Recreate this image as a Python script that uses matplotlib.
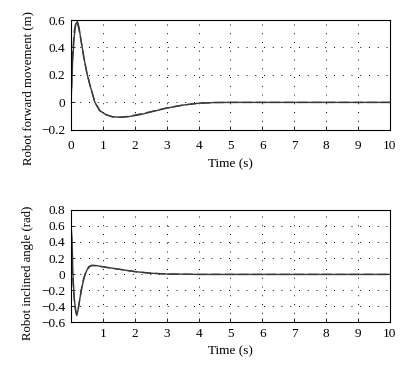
import matplotlib
matplotlib.use("Agg")
import matplotlib.pyplot as plt

plt.rcParams['font.family'] = 'serif'
plt.rcParams['font.serif'] = ['Liberation Serif', 'DejaVu Serif']

# Top: robot forward movement (m)
t_fwd_solid = [0, 0.02, 0.05, 0.1, 0.15, 0.2, 0.25, 0.3, 0.4, 0.5, 0.6, 0.75, 0.9, 1.1, 1.3,
               1.54, 1.8, 2.16, 2.5, 3.0, 3.5, 4.0, 4.5, 5.0, 10.0]
fwd_solid = [0, 0.12, 0.3, 0.48, 0.57, 0.59, 0.55, 0.47, 0.33, 0.21, 0.12, 0.0, -0.06, -0.09, -0.105,
             -0.108, -0.104, -0.09, -0.07, -0.042, -0.02, -0.006, -0.001, 0.0, 0.0]
t_fwd_dash = [0, 0.02, 0.05, 0.1, 0.15, 0.18, 0.22, 0.3, 0.4, 0.5, 0.6, 0.75, 0.9, 1.1, 1.3,
              1.54, 1.8, 2.16, 2.5, 3.0, 3.5, 4.0, 4.5, 5.0, 10.0]
fwd_dash = [0, 0.15, 0.35, 0.52, 0.58, 0.59, 0.56, 0.47, 0.33, 0.21, 0.12, 0.0, -0.06, -0.09, -0.105,
            -0.108, -0.102, -0.085, -0.068, -0.04, -0.02, -0.006, -0.001, 0.0, 0.0]

# Bottom: robot inclined angle (rad)
t_ang_solid = [0, 0.03, 0.06, 0.1, 0.14, 0.18, 0.22, 0.28, 0.35, 0.44, 0.55, 0.65, 0.8, 1.0,
               1.5, 2.0, 2.5, 3.0, 4.0, 10.0]
ang_solid = [0.6, 0.45, 0.0, -0.3, -0.45, -0.52, -0.45, -0.3, -0.15, 0.0, 0.09, 0.11, 0.105, 0.09,
             0.06, 0.03, 0.01, 0.0, -0.005, -0.005]
t_ang_dash = [0, 0.03, 0.08, 0.12, 0.17, 0.22, 0.28, 0.34, 0.4, 0.5, 0.6, 0.7, 0.8, 1.0,
              1.5, 2.0, 2.5, 3.0, 4.0, 10.0]
ang_dash = [0.3, 0.1, -0.2, -0.4, -0.5, -0.45, -0.3, -0.15, -0.05, 0.05, 0.1, 0.105, 0.103, 0.09,
            0.06, 0.03, 0.01, 0.0, -0.005, -0.005]

fig = plt.figure(figsize=(4.13, 3.71), dpi=100)
ax1 = fig.add_axes([0.172, 0.650, 0.772, 0.296])
ax2 = fig.add_axes([0.172, 0.132, 0.772, 0.302])

lc = '#3a3a3a'
fs = 9.5
for ax in (ax1, ax2):
    ax.set_xlim(0, 10)
    ax.set_xticks(range(0, 11))
    ax.grid(True, color='black', linestyle=(0, (1, 8)), linewidth=0.7)
    ax.tick_params(direction='in', length=3, width=0.6, labelsize=fs)
    ax.tick_params(axis='y', pad=4)
    for s in ax.spines.values():
        s.set_linewidth(0.8)

ax1.tick_params(axis='x', pad=7)
ax2.tick_params(axis='x', pad=4)
ax1.set_xlabel('Time (s)', fontsize=fs, labelpad=5)
ax2.set_xlabel('Time (s)', fontsize=fs, labelpad=4)

ax1.plot(t_fwd_solid, fwd_solid, color=lc, lw=1.0)
ax1.plot(t_fwd_dash, fwd_dash, color=lc, lw=1.0, ls=(0, (7, 3)))
ax1.set_ylim(-0.2, 0.6)
ax1.set_yticks([-0.2, 0, 0.2, 0.4, 0.6])
ax1.set_yticklabels(['\u22120.2', '0', '0.2', '0.4', '0.6'])
ax1.set_ylabel('Robot forward movement (m)', fontsize=9.2)
ax1.yaxis.set_label_coords(-0.115, 0.38)

ax2.plot(t_ang_solid, ang_solid, color=lc, lw=1.0)
ax2.plot(t_ang_dash, ang_dash, color=lc, lw=1.0, ls=(0, (7, 3)))
ax2.set_ylim(-0.6, 0.8)
ax2.set_yticks([-0.6, -0.4, -0.2, 0, 0.2, 0.4, 0.6, 0.8])
ax2.set_yticklabels(['\u22120.6', '\u22120.4', '\u22120.2', '0', '0.2', '0.4', '0.6', '0.8'])
ax2.set_xticklabels([''] + [str(i) for i in range(1, 11)])
ax2.set_ylabel('Robot inclined angle (rad)', fontsize=9.2)
ax2.yaxis.set_label_coords(-0.115, 0.44)

fig.savefig('out.png', dpi=100)
